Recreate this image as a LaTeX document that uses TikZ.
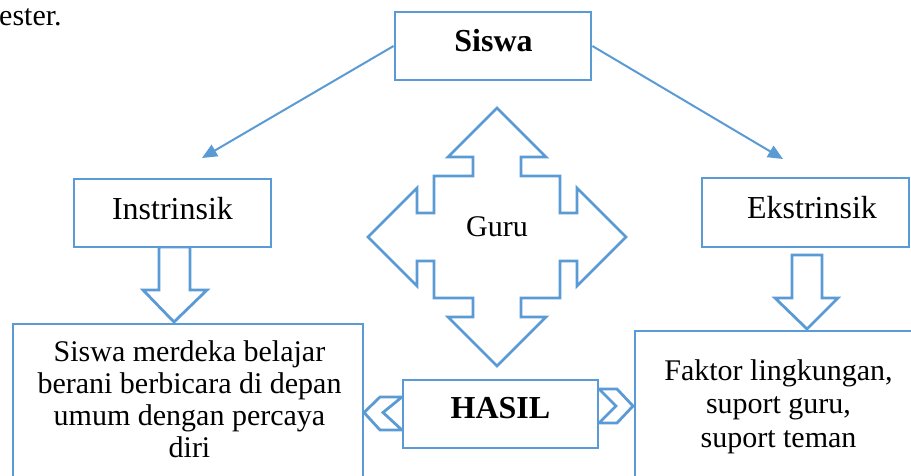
\documentclass[tikz,border=0pt]{standalone}
\usepackage{fontspec}
\setmainfont{Liberation Serif}
\usetikzlibrary{arrows.meta}
\definecolor{bl}{HTML}{5B9BD5}
\tikzset{
  box/.style={draw=bl, line width=2.8pt, fill=white, inner sep=0pt},
  txt/.style={inner sep=0pt, font=\fontsize{30}{32}\selectfont},
  wtxt/.style={inner sep=0pt, font=\fontsize{32}{34}\selectfont},
  btxt/.style={inner sep=0pt, font=\fontsize{32}{34}\selectfont\bfseries},
  conn/.style={draw=bl, line width=2pt, -{Triangle[length=15pt,width=13pt]}},
  outline/.style={draw=bl, line width=2.8pt, line join=miter, fill=white},
}
\begin{document}
\begin{tikzpicture}[x=1pt,y=-1pt]
\useasboundingbox (0,0) rectangle (911,475);
\clip (0,0) rectangle (911,475);

% fragment of running text
\node[txt, anchor=base west] (frag) at (-1,25) {ester.};

% top box
\node[box, minimum width=196pt, minimum height=68pt] (siswa) at (493,46) {};
\node[btxt] (siswaT) at (493.5,41) {Siswa};

% connector targets
\coordinate (tipL) at (202,158);
\coordinate (tipR) at (783,159);
\draw[conn] (siswa.west) -- (tipL);
\draw[conn] (siswa.east) -- (tipR);

% block arrows (drawn before the boxes)
\draw[outline] (159,247) -- (159,290) -- (143,290) -- (174,322) -- (207,290) -- (190,290) -- (190,247) -- cycle;
\draw[outline] (792,255) -- (792,298) -- (775,298) -- (807,329) -- (838,298) -- (822,298) -- (822,255) -- cycle;

% middle boxes
\node[box, minimum width=197pt, minimum height=68pt] (intr) at (172.5,213) {};
\node[wtxt] (intrT) at (172.5,209) {Instrinsik};
\node[box, minimum width=207pt, minimum height=69pt] (ekst) at (805.5,212.5) {};
\node[wtxt] (ekstT) at (812,208) {Ekstrinsik};

% four-way arrow (Guru)
\begin{scope}[shift={(497,237)}]
\draw[outline] (0,-129) -- (49,-80) -- (24,-80) -- (24,-61) -- (63,-61) -- (63,-24) -- (80,-24) -- (80,-49)
  -- (129,0) -- (80,49) -- (80,24) -- (63,24) -- (63,61) -- (24,61) -- (24,80) -- (49,80)
  -- (0,129) -- (-49,80) -- (-24,80) -- (-24,61) -- (-63,61) -- (-63,24) -- (-80,24) -- (-80,49)
  -- (-129,0) -- (-80,-49) -- (-80,-24) -- (-63,-24) -- (-63,-61) -- (-24,-61) -- (-24,-80) -- (-49,-80) -- cycle;
\end{scope}
\node[txt] (guru) at (497,227) {Guru};

% bottom boxes
\node[box, minimum width=350pt, minimum height=160pt] (left) at (188,404) {};
\node[box, minimum width=290pt, minimum height=155pt] (right) at (780,408.5) {};
\node[txt, align=center, anchor=base, font=\fontsize{30}{31.7}\selectfont] (leftT) at (189.5,457)
  {Siswa merdeka belajar\\berani berbicara di depan\\umum dengan percaya\\diri};
\node[txt, align=center, anchor=base, font=\fontsize{30}{33.5}\selectfont] (rightT) at (778.5,447)
  {Faktor lingkungan,\\suport guru,\\suport teman};

% chevrons
\draw[outline] (380,397) -- (402,397) -- (383,412.5) -- (402,430) -- (380,430) -- (364,412.5) -- cycle;
\draw[outline] (599,389) -- (617,389) -- (633,406) -- (617,423) -- (599,423) -- (616,406) -- cycle;

% result box
\node[box, minimum width=195pt, minimum height=68pt] (hasil) at (500.5,414) {};
\node[btxt] (hasilT) at (500.5,408) {HASIL};
\end{tikzpicture}
\end{document}
